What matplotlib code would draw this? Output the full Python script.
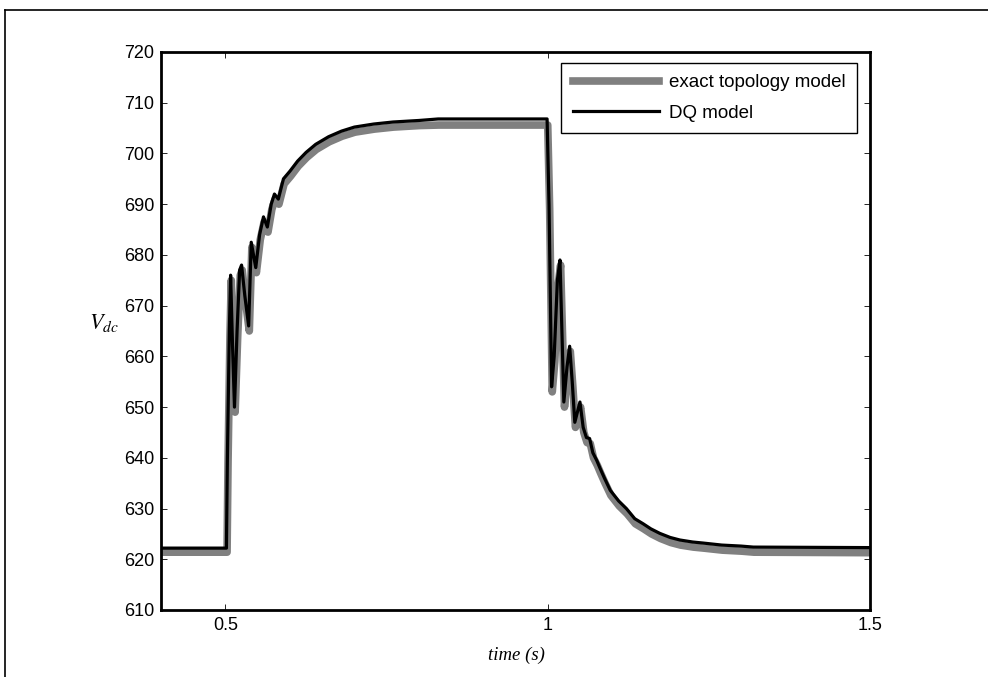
import matplotlib
matplotlib.use("Agg")
import matplotlib.pyplot as plt
from matplotlib.lines import Line2D

# DQ model (black)
t_dq = [0.400, 0.5015, 0.503, 0.506, 0.508, 0.511, 0.514, 0.518, 0.522, 0.525,
        0.530, 0.536, 0.540, 0.547, 0.553, 0.559, 0.565, 0.571, 0.576, 0.582,
        0.590, 0.600, 0.612, 0.625, 0.640, 0.660, 0.680, 0.700, 0.730, 0.760,
        0.800, 0.830, 0.999, 1.002, 1.006, 1.010, 1.015, 1.019, 1.022, 1.025,
        1.030, 1.034, 1.038, 1.042, 1.046, 1.050, 1.055, 1.060, 1.065, 1.070,
        1.076, 1.081, 1.088, 1.097, 1.110, 1.122, 1.135, 1.148, 1.160, 1.174,
        1.190, 1.205, 1.225, 1.241, 1.270, 1.300, 1.319, 1.500]
v_dq = [622.2, 622.2, 640.0, 665.0, 676.0, 662.0, 650.0, 665.0, 677.0, 678.0,
        672.0, 666.0, 682.5, 677.5, 684.0, 687.5, 685.5, 690.0, 692.0, 691.0,
        695.0, 696.5, 698.5, 700.2, 701.8, 703.3, 704.4, 705.2, 705.8, 706.2,
        706.5, 706.8, 706.8, 690.0, 654.0, 660.0, 675.0, 679.0, 665.0, 651.0,
        658.0, 662.0, 655.0, 647.0, 649.0, 651.0, 646.0, 644.0, 643.8, 641.0,
        639.5, 638.0, 636.0, 633.6, 631.5, 630.0, 628.0, 627.0, 626.0, 625.1,
        624.3, 623.8, 623.4, 623.2, 622.8, 622.6, 622.4, 622.3]

# exact topology model (grey)
t_ex = [0.400, 0.5025, 0.504, 0.507, 0.509, 0.512, 0.515, 0.519, 0.523, 0.526,
        0.531, 0.537, 0.541, 0.548, 0.554, 0.560, 0.566, 0.572, 0.577, 0.583,
        0.591, 0.601, 0.613, 0.626, 0.641, 0.661, 0.681, 0.701, 0.731, 0.761,
        0.801, 0.831, 1.000, 1.003, 1.007, 1.011, 1.016, 1.020, 1.023, 1.026,
        1.031, 1.035, 1.039, 1.043, 1.047, 1.051, 1.056, 1.061, 1.066, 1.071,
        1.077, 1.082, 1.089, 1.098, 1.111, 1.123, 1.136, 1.149, 1.161, 1.175,
        1.191, 1.206, 1.226, 1.242, 1.271, 1.301, 1.320, 1.500]
v_ex = [621.4, 621.4, 639.0, 664.0, 675.0, 661.0, 649.0, 664.0, 676.0, 677.0,
        671.0, 665.0, 681.5, 676.5, 683.0, 686.5, 684.5, 689.0, 691.0, 690.0,
        694.0, 695.5, 697.5, 699.2, 700.8, 702.3, 703.4, 704.2, 704.8, 705.2,
        705.5, 705.6, 705.6, 689.0, 653.0, 659.0, 674.0, 678.0, 664.0, 650.0,
        657.0, 661.0, 654.0, 646.0, 648.0, 650.0, 645.0, 643.0, 642.8, 640.0,
        638.5, 637.0, 635.0, 632.6, 630.5, 629.0, 627.0, 626.0, 625.0, 624.1,
        623.3, 622.8, 622.4, 622.2, 621.8, 621.6, 621.4, 621.3]

x_ticks = [0.5, 1, 1.5]
x_tick_labels = ["0.5", "1", "1.5"]
y_ticks = list(range(610, 721, 10))

plt.rcParams['mathtext.fontset'] = 'stix'

fig = plt.figure(figsize=(9.88, 6.77), dpi=100)
ax = fig.add_axes([161 / 988, 1 - 610 / 677, (870 - 161) / 988, (610 - 52) / 677])

ax.plot(t_ex, v_ex, color='#808080', lw=5.5, label='exact topology model',
        solid_joinstyle='round')
ax.plot(t_dq, v_dq, color='black', lw=2.3, label='DQ model', solid_joinstyle='round')

ax.set_xlim(0.4, 1.5)
ax.set_ylim(610, 720)
ax.set_xticks(x_ticks)
ax.set_xticklabels(x_tick_labels)
ax.set_yticks(y_ticks)
ax.tick_params(direction='in', length=4, width=0.6, top=True, right=True,
               labelsize=13, pad=5)
for lab in ax.get_xticklabels() + ax.get_yticklabels():
    lab.set_family('Liberation Sans')
for sp in ax.spines.values():
    sp.set_linewidth(2.0)

leg = ax.legend(loc='upper right', bbox_to_anchor=(857 / 988, 1 - 63 / 677),
                bbox_transform=fig.transFigure, fancybox=False, framealpha=1,
                edgecolor='black', prop={'family': 'Liberation Sans', 'size': 13.5},
                handlelength=4.6, borderpad=0.6, labelspacing=0.7,
                handletextpad=0.55, borderaxespad=0)
leg.get_frame().set_linewidth(1.0)

fig.text(104 / 988, 1 - 323 / 677, r'$V_{dc}$', fontsize=16, ha='center', va='center')
fig.text(516 / 988, 1 - 655 / 677, 'time (s)', fontsize=13.5, ha='center', va='center',
         family='Liberation Serif', style='italic')

# page frame
fig.add_artist(Line2D([5 / 988, 1.0], [1 - 10 / 677, 1 - 10 / 677], color='black', lw=1.2))
fig.add_artist(Line2D([5 / 988, 5 / 988], [0, 1 - 10 / 677], color='black', lw=1.2))

fig.savefig('out.png', dpi=100)
